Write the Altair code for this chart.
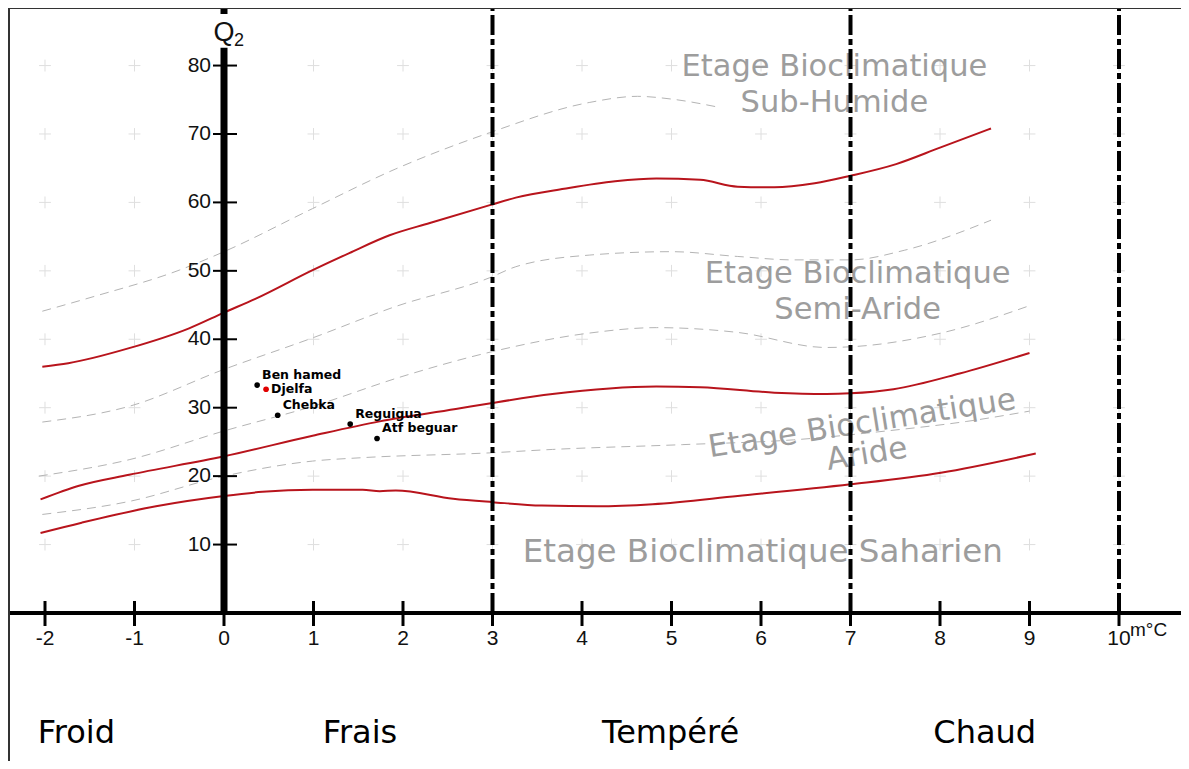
import altair as alt
import pandas as pd

# ---------------- data ----------------
# solid red limits between the bioclimatic stages  (x = m °C, y = Q2)
lim1_x = [-2.03, -1.74, -1.06, -0.39, 0.0, 0.35, 0.99, 1.4, 1.85, 2.3, 2.97, 3.26, 3.8, 4.37, 4.83, 5.32, 5.74, 6.15, 6.6, 7.0, 7.51, 8.0, 8.57]
lim1_y = [36.0, 36.5, 38.7, 41.6, 43.9, 45.9, 50.1, 52.6, 55.2, 57.0, 59.6, 60.7, 62.0, 63.1, 63.5, 63.3, 62.3, 62.2, 62.8, 63.9, 65.6, 68.0, 70.8]
lim2_x = [-2.05, -1.62, -1.06, 0.0, 0.99, 1.74, 2.59, 3.0, 3.67, 4.83, 5.32, 6.15, 6.73, 7.0, 7.48, 8.22, 9.0]
lim2_y = [16.6, 18.6, 20.2, 22.9, 25.9, 28.0, 29.8, 30.7, 32.0, 33.1, 33.0, 32.2, 32.0, 32.1, 32.7, 35.0, 38.0]
lim3_x = [-2.05, -1.59, -0.76, 0.0, 0.43, 0.99, 1.55, 1.74, 1.92, 2.56, 3.0, 3.55, 4.17, 4.79, 5.74, 7.0, 8.01, 9.07]
lim3_y = [11.7, 13.2, 15.6, 17.1, 17.7, 18.0, 18.0, 17.8, 17.9, 16.7, 16.2, 15.7, 15.6, 15.9, 17.1, 18.8, 20.5, 23.3]

# grey dashed sub-divisions
sub1_x = [-2.03, -1.44, -0.5, 0.0, 0.99, 1.92, 2.97, 4.08, 4.62, 5.0, 5.53]
sub1_y = [44.1, 46.3, 50.1, 52.8, 59.1, 64.9, 70.2, 74.6, 75.5, 75.1, 73.9]
sub2_x = [-2.03, -1.06, 0.0, 0.99, 1.92, 2.97, 3.26, 4.08, 5.0, 5.74, 6.36, 7.0, 7.6, 8.57]
sub2_y = [27.9, 30.2, 35.6, 40.2, 44.8, 49.0, 50.6, 52.3, 52.8, 52.1, 51.6, 51.6, 53.0, 57.4]
sub3_x = [-2.07, -1.06, 0.0, 0.99, 2.0, 3.0, 4.08, 4.83, 5.74, 6.73, 7.0, 8.01, 9.02]
sub3_y = [20.0, 22.4, 26.6, 30.2, 34.6, 38.2, 40.9, 41.7, 41.0, 38.8, 38.9, 40.9, 45.0]
sub4_x = [-2.03, -1.06, 0.0, 0.99, 1.55, 2.97, 3.67, 5.12, 6.36, 7.4, 8.3, 9.0]
sub4_y = [14.4, 16.3, 20.0, 22.2, 22.7, 23.4, 23.9, 24.6, 25.3, 26.6, 28.0, 29.5]

# stations
st_name = ["Ben hamed", "Djelfa", "Chebka", "Reguigua", "Atf beguar"]
st_x = [0.37, 0.47, 0.60, 1.41, 1.71]
st_y = [33.3, 32.7, 28.9, 27.6, 25.5]
st_col = ["#000000", "#e00000", "#000000", "#000000", "#000000"]

# axes
x_ticks = [-2, -1, 0, 1, 2, 3, 4, 5, 6, 7, 8, 9, 10]
y_ticks = [10, 20, 30, 40, 50, 60, 70, 80]
limit_x = [3, 7, 10]

# thermal classes (bottom) and stage names
cls_name = ["Froid", "Frais", "Tempéré", "Chaud"]
cls_x = [-1.65, 1.52, 4.99, 8.5]
stage_lab = ["Etage Bioclimatique\nSub-Humide", "Etage Bioclimatique\nSemi-Aride"]
stage_x = [6.82, 7.08]
stage_y = [79.8, 49.47]
sah_lab = ["Etage Bioclimatique Saharien"]
sah_x = [6.02]
sah_y = [8.9]
aride_lab = ["Etage Bioclimatique\nAride"]
aride_x = [7.13]
aride_y = [27.6]

# ---------------- chart ----------------
W, H = 1173, 753
X0, X1 = -2.4134, 10.6927
Y0, Y1 = -21.63, 88.41
xs = alt.Scale(domain=[X0, X1], nice=False, zero=False)
ys = alt.Scale(domain=[Y0, Y1], nice=False, zero=False)


def ex(f="x"):
    return alt.X(f"{f}:Q", scale=xs, axis=None)


def ey(f="y"):
    return alt.Y(f"{f}:Q", scale=ys, axis=None)


def long(curves):
    rows = []
    for name, xv, yv in curves:
        for i, (a, b) in enumerate(zip(xv, yv)):
            rows.append({"c": name, "o": i, "x": a, "y": b})
    return pd.DataFrame(rows)


lim_df = long([("l1", lim1_x, lim1_y), ("l2", lim2_x, lim2_y), ("l3", lim3_x, lim3_y)])
sub_df = long([("s1", sub1_x, sub1_y), ("s2", sub2_x, sub2_y), ("s3", sub3_x, sub3_y), ("s4", sub4_x, sub4_y)])
st_df = pd.DataFrame({"name": st_name, "x": st_x, "y": st_y, "col": st_col})
grid_df = pd.DataFrame([{"x": a, "y": b} for a in x_ticks for b in y_ticks])
xt_df = pd.DataFrame({"x": x_ticks, "y": [0] * len(x_ticks), "lab": [str(v) for v in x_ticks]})
yt_df = pd.DataFrame({"x": [0] * len(y_ticks), "y": y_ticks, "lab": [str(v) for v in y_ticks]})
vl_df = pd.DataFrame({"x": limit_x, "y": [0] * 3, "y2": [Y1] * 3})
cls_df = pd.DataFrame({"x": cls_x, "y": [-17.5] * 4, "lab": cls_name})
stg_df = pd.DataFrame({"x": stage_x, "y": stage_y, "lab": stage_lab})
sah_df = pd.DataFrame({"x": sah_x, "y": sah_y, "lab": sah_lab})
ar_df = pd.DataFrame({"x": aride_x, "y": aride_y, "lab": aride_lab})
axis_df = pd.DataFrame({"x": [X0], "x2": [X1], "y": [0], "ytop": [82.6], "x0": [0], "x10": [10]})

FONT = "Liberation Sans"
WIDE = "DejaVu Sans"
grey = "#9d9d9d"
red = "#b8141c"

grid = alt.Chart(grid_df).mark_point(
    shape="M-1,0L1,0M0,-1L0,1", filled=False, stroke="#d2d2d2", strokeWidth=1, size=140
).encode(x=ex(), y=ey())

subs = alt.Chart(sub_df).mark_line(
    color="#b4b4b4", strokeWidth=1, strokeDash=[9, 6], interpolate="monotone"
).encode(x=ex(), y=ey(), detail="c:N", order="o:Q")

lims = alt.Chart(lim_df).mark_line(
    color=red, strokeWidth=2, interpolate="monotone"
).encode(x=ex(), y=ey(), detail="c:N", order="o:Q")

vlines = alt.Chart(vl_df).mark_rule(
    color="black", strokeWidth=4, strokeDash=[20, 4, 6, 4]
).encode(x=ex(), y=ey(), y2="y2:Q")

xaxis = alt.Chart(axis_df).mark_rule(color="black", strokeWidth=4).encode(
    x=ex(), x2="x2:Q", y=ey())
yaxis = alt.Chart(axis_df).mark_rule(color="black", strokeWidth=7).encode(
    x=ex("x0"), y=ey(), y2="ytop:Q")
ytop = alt.Chart(axis_df).mark_rule(color="black", strokeWidth=7).encode(
    x=ex("x0"), y=alt.value(0), y2=alt.value(6))

xtick = alt.Chart(xt_df).mark_rule(color="black", strokeWidth=3, yOffset=-12, y2Offset=13).encode(
    x=ex(), y=ey(), y2="y:Q")
ytick = alt.Chart(yt_df).mark_rule(color="black", strokeWidth=2, xOffset=-11, x2Offset=13).encode(
    x=ex(), x2="x:Q", y=ey())

xlab = alt.Chart(xt_df).mark_text(font=FONT, fontSize=21, dy=26, color="#111").encode(
    x=ex(), y=ey(), text="lab:N")
ylab = alt.Chart(yt_df).mark_text(font=FONT, fontSize=21, align="right", dx=-13, color="#111").encode(
    x=ex(), y=ey(), text="lab:N")

q_lab = alt.Chart(axis_df).mark_text(font=FONT, fontSize=27, text="Q", align="center", color="#111").encode(
    x=ex("x0"), y=alt.value(25))
q_sub = alt.Chart(axis_df).mark_text(font=FONT, fontSize=18, text="2", align="left", dx=10, color="#111").encode(
    x=ex("x0"), y=alt.value(33))
unit = alt.Chart(axis_df).mark_text(font=FONT, fontSize=19, text="m°C", align="left", dx=11, dy=17, color="#111").encode(
    x=ex("x10"), y=ey())

pts = alt.Chart(st_df).mark_point(filled=True, size=32, opacity=1).encode(
    x=ex(), y=ey(), color=alt.Color("col:N", scale=None))
pt_lab = alt.Chart(st_df).mark_text(font=WIDE, fontWeight="bold", fontSize=12.5, align="left", dx=5, dy=-10, color="black").encode(
    x=ex(), y=ey(), text="name:N").transform_filter("datum.name != 'Djelfa'")
dj_lab = alt.Chart(st_df).mark_text(font=WIDE, fontWeight="bold", fontSize=12.5, align="left", dx=5, color="black").encode(
    x=ex(), y=ey(), text="name:N").transform_filter("datum.name == 'Djelfa'")

stg = alt.Chart(stg_df).mark_text(font=WIDE, fontSize=30.5, color=grey, lineBreak="\n", lineHeight=36).encode(
    x=ex(), y=ey(), text="lab:N")
sah = alt.Chart(sah_df).mark_text(font=WIDE, fontSize=32.5, color=grey).encode(
    x=ex(), y=ey(), text="lab:N")
ar = alt.Chart(ar_df).mark_text(font=WIDE, fontSize=31, color=grey, angle=351, lineBreak="\n", lineHeight=31).encode(
    x=ex(), y=ey(), text="lab:N")

cls = alt.Chart(cls_df).mark_text(font=WIDE, fontSize=32, color="black").encode(
    x=ex(), y=ey(), text="lab:N")

frame_top = alt.Chart(axis_df).mark_rule(color="#333", strokeWidth=2).encode(
    x=alt.value(0), x2=alt.value(W), y=alt.value(0))
frame_left = alt.Chart(axis_df).mark_rule(color="#333", strokeWidth=2).encode(
    x=alt.value(1), y=alt.value(0), y2=alt.value(H))

chart = alt.layer(
    grid, subs, lims, stg, sah, ar, vlines, xaxis, yaxis, ytop, xtick, ytick,
    xlab, ylab, q_lab, q_sub, unit, pts, pt_lab, dj_lab, cls, frame_top, frame_left
).properties(
    width=W, height=H, padding=0, autosize=alt.AutoSizeParams(type="none")
).configure_view(stroke=None)

chart.save("out.html", embed_options={"renderer": "svg", "actions": False})
